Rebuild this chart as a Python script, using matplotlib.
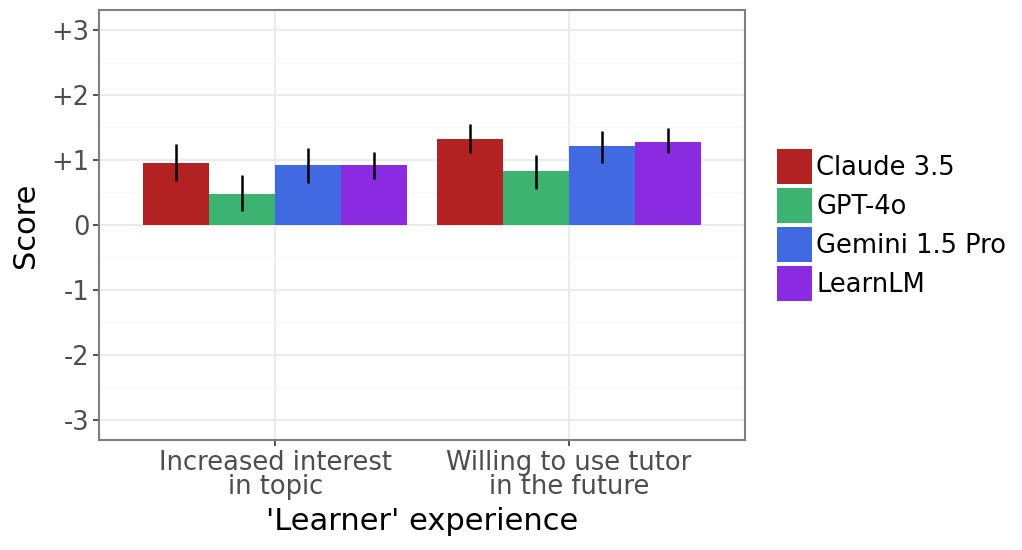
import matplotlib
matplotlib.use('Agg')
import matplotlib.pyplot as plt
import matplotlib.ticker as ticker
import numpy as np

# Data
groups = ['Increased interest\nin topic', 'Willing to use tutor\nin the future']
models = ['Claude 3.5', 'GPT-4o', 'Gemini 1.5 Pro', 'LearnLM']
colors = ['#B22222', '#3CB371', '#4169E1', '#8A2BE2']

means = [[0.96, 1.32],
         [0.48, 0.83],
         [0.92, 1.21],
         [0.93, 1.28]]
lows = [[0.67, 1.10],
        [0.21, 0.56],
        [0.65, 0.96],
        [0.71, 1.10]]
highs = [[1.24, 1.56],
         [0.77, 1.07],
         [1.18, 1.45],
         [1.12, 1.49]]

yticks = [-3, -2, -1, 0, 1, 2, 3]
ytick_labels = ['-3', '-2', '-1', '0', '+1', '+2', '+3']

fig = plt.figure(figsize=(10.22, 5.5), dpi=100)
ax = fig.add_axes([0.0969, 0.2, 0.632, 0.782])

x = np.arange(1, len(groups) + 1)
width = 0.225
for i, m in enumerate(models):
    pos = x + (i - 1.5) * width
    mu = np.array(means[i])
    err = [mu - np.array(lows[i]), np.array(highs[i]) - mu]
    ax.bar(pos, mu, width, color=colors[i], label=m, zorder=2)
    ax.errorbar(pos, mu, yerr=err, fmt='none', ecolor='black',
                elinewidth=1.8, capsize=0, zorder=3)

# Axes limits and ticks
ax.set_xlim(0.4, 2.6)
ax.set_ylim(-3.31, 3.31)
ax.set_xticks(x)
ax.set_xticklabels(groups, fontsize=18.5, color='#4D4D4D', linespacing=0.9)
ax.set_yticks(yticks)
ax.set_yticklabels(ytick_labels, fontsize=18.5, color='#4D4D4D')
ax.yaxis.set_minor_locator(ticker.MultipleLocator(0.5))
ax.tick_params(which='major', length=4, width=1.2, color='#333333', pad=3)
ax.tick_params(which='minor', length=0)

# Grid
ax.grid(which='major', color='#EBEBEB', linewidth=1.5, zorder=0)
ax.grid(which='minor', axis='y', color='#F7F7F7', linewidth=0.8, zorder=0)
ax.set_axisbelow(True)

for s in ax.spines.values():
    s.set_color('#7F7F7F')
    s.set_linewidth(1.5)

ax.set_xlabel("'Learner' experience", fontsize=22, labelpad=5)
ax.set_ylabel('Score', fontsize=22, labelpad=8)

ax.legend(loc='center left', bbox_to_anchor=(1.05, 0.5), frameon=False,
          fontsize=18.5, handlelength=1.36, handleheight=1.72,
          handletextpad=0.16, labelspacing=0.156, borderaxespad=0,
          borderpad=0)

fig.savefig('out.png', dpi=100)
